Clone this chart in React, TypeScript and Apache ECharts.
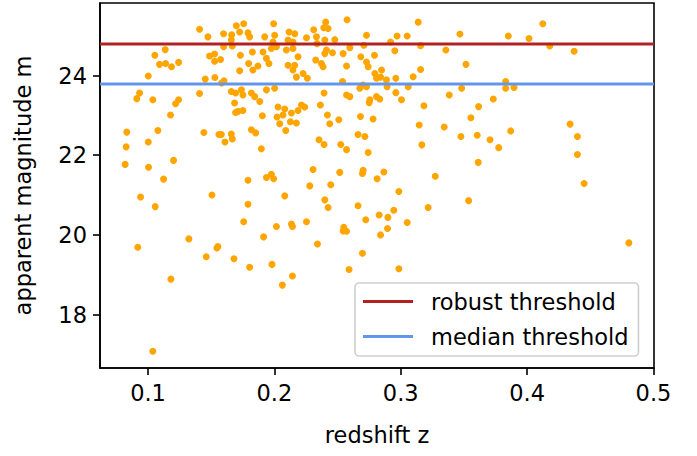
import React, { useEffect, useRef } from "react";
import * as echarts from "echarts";

const redshift = [
  0.1408, 0.1474, 0.1598, 0.1662, 0.1699, 0.1659, 0.1667, 0.1598, 0.1054, 0.1136,
  0.1091, 0.1139, 0.1186, 0.1242, 0.1002, 0.1487, 0.1527, 0.1527, 0.1574, 0.1453,
  0.1529, 0.1601, 0.1582, 0.0933, 0.0911, 0.1038, 0.1242, 0.1408, 0.1659, 0.1693,
  0.1725, 0.1757, 0.1725, 0.1791, 0.1804, 0.1994, 0.1923, 0.2002, 0.1989, 0.1976,
  0.2016, 0.2116, 0.2161, 0.2108, 0.2147, 0.2095, 0.2147, 0.2254, 0.2311, 0.2333,
  0.2338, 0.2406, 0.2391, 0.2425, 0.2399, 0.2478, 0.2412, 0.2460, 0.2399, 0.2575,
  0.2729, 0.2544, 0.2597, 0.1731, 0.1826, 0.1910, 0.1937, 0.1957, 0.1796, 0.1830,
  0.1870, 0.2108, 0.2161, 0.2147, 0.2187, 0.2327, 0.2372, 0.2385, 0.2227, 0.2261,
  0.2174, 0.2571, 0.2684, 0.2729, 0.2539, 0.2676, 0.2729, 0.2393, 0.2571, 0.2597,
  0.1739, 0.1751, 0.1818, 0.1844, 0.1937, 0.2002, 0.3138, 0.2708, 0.2919, 0.2971,
  0.3051, 0.2953, 0.3157, 0.3468, 0.3357, 0.3851, 0.3516, 0.2792, 0.2742, 0.2795,
  0.2848, 0.2808, 0.2887, 0.2892, 0.2961, 0.2961, 0.3098, 0.3157, 0.3059, 0.3384,
  0.3482, 0.3732, 0.3830, 0.3830, 0.2702, 0.2808, 0.3006, 0.2755, 0.2840, 0.4015,
  0.4124, 0.4179, 0.4372, 0.3896, 0.1218, 0.1685, 0.1693, 0.1178, 0.0832, 0.1078,
  0.0827, 0.1002, 0.1442, 0.1561, 0.1580, 0.1609, 0.1659, 0.1667, 0.0819, 0.1004,
  0.1202, 0.1123, 0.0941, 0.1057, 0.1506, 0.1884, 0.1712, 0.1751, 0.1905, 0.2029,
  0.2082, 0.2135, 0.2214, 0.2240, 0.2187, 0.2021, 0.2042, 0.2068, 0.2090, 0.2127,
  0.2174, 0.1818, 0.1852, 0.1897, 0.2364, 0.2420, 0.2438, 0.2510, 0.2681, 0.2750,
  0.2353, 0.2393, 0.2525, 0.2571, 0.2662, 0.2716, 0.2742, 0.2306, 0.2517, 0.2702,
  0.2697, 0.1791, 0.1937, 0.1976, 0.1994, 0.2280, 0.2446, 0.2082, 0.1791, 0.2399,
  0.2425, 0.2662, 0.1757, 0.2016, 0.2135, 0.2143, 0.2254, 0.2549, 0.2723, 0.2834,
  0.3183, 0.3616, 0.2781, 0.3146, 0.3344, 0.3555, 0.3870, 0.4340, 0.4398, 0.4398,
  0.4451, 0.3476, 0.3605, 0.3706, 0.3775, 0.3167, 0.3613, 0.2866, 0.2813, 0.3273,
  0.2985, 0.3537, 0.3217, 0.2829, 0.2898, 0.2945, 0.3051, 0.2895, 0.2840, 0.2697,
  0.2985, 0.4805, 0.0919, 0.1181, 0.1038, 0.1323, 0.1461, 0.1545, 0.1553, 0.1680,
  0.1804, 0.1915, 0.1981, 0.2063, 0.2143, 0.2341, 0.2544, 0.2571, 0.2591,
];

const magnitude = [
  25.16, 24.97, 25.05, 25.02, 25.25, 24.89, 24.74, 24.72, 24.51, 24.65,
  24.28, 24.30, 24.22, 24.33, 23.99, 24.49, 24.54, 24.36, 24.40, 23.91,
  23.95, 23.87, 23.81, 23.56, 23.42, 23.39, 23.39, 23.55, 23.60, 23.56,
  24.12, 25.30, 25.09, 25.07, 24.97, 25.30, 24.97, 25.01, 24.84, 24.68,
  24.72, 25.09, 25.05, 24.89, 24.84, 24.64, 24.68, 24.95, 25.15, 24.97,
  24.80, 25.34, 25.20, 25.18, 24.89, 24.90, 24.64, 24.57, 24.55, 25.40,
  25.01, 24.55, 24.70, 24.51, 24.59, 24.59, 24.43, 24.30, 24.30, 24.14,
  24.24, 24.26, 24.26, 24.14, 24.47, 24.39, 24.30, 24.22, 24.05, 23.93,
  23.96, 24.24, 24.47, 24.34, 23.85, 23.68, 23.72, 23.56, 23.51, 23.47,
  23.64, 23.51, 23.56, 23.47, 23.64, 23.68, 25.34, 24.76, 24.84, 24.99,
  24.99, 24.62, 24.75, 25.04, 24.64, 24.99, 24.28, 24.51, 24.22, 24.05,
  24.14, 23.93, 23.89, 23.72, 23.93, 23.57, 23.97, 24.15, 23.72, 23.51,
  23.68, 23.41, 23.85, 23.68, 23.76, 23.47, 23.39, 23.39, 23.96, 24.93,
  25.30, 24.74, 24.61, 23.70, 23.29, 23.31, 23.07, 23.01, 22.58, 22.62,
  22.21, 22.33, 22.57, 22.52, 22.52, 22.33, 22.53, 22.41, 21.77, 21.70,
  21.87, 21.40, 20.95, 20.71, 21.00, 23.35, 23.10, 23.12, 22.99, 23.21,
  23.16, 23.06, 23.26, 23.21, 23.12, 22.96, 22.79, 23.01, 22.62, 22.84,
  22.81, 22.64, 22.56, 22.16, 23.26, 23.01, 22.79, 22.89, 22.97, 23.32,
  22.39, 22.27, 22.27, 22.14, 22.52, 22.47, 22.07, 21.64, 21.57, 21.62,
  21.54, 21.37, 21.44, 21.52, 21.41, 21.23, 21.26, 20.98, 20.77, 20.88,
  20.69, 20.73, 20.33, 20.21, 20.27, 20.21, 20.33, 20.19, 20.38, 23.41,
  23.24, 23.22, 22.91, 22.76, 22.71, 22.94, 22.61, 22.78, 22.47, 22.02,
  21.29, 22.47, 22.50, 22.39, 22.19, 22.26, 21.82, 21.58, 21.41, 21.47,
  21.09, 20.86, 20.69, 20.50, 20.44, 20.62, 20.31, 20.16, 20.00, 19.54,
  19.15, 19.80, 19.69, 18.89, 17.08, 19.90, 19.45, 19.67, 19.71, 19.40,
  19.19, 19.95, 19.26, 18.74, 18.97, 19.77, 20.10, 20.09, 19.13,
];

const robustThreshold = 24.79;
const medianThreshold = 23.79;
const xTicks = [0.1, 0.2, 0.3, 0.4, 0.5];
const yTicks = [18, 20, 22, 24];
const xRange = [0.062, 0.5004];
const yRange = [16.66, 25.82];

export default function App() {
  const ref = useRef<HTMLDivElement>(null);
  useEffect(() => {
    const chart = echarts.init(ref.current!, null, { renderer: "svg" });
    const font = "DejaVu Sans";
    const fs = 22.5;
    const points = redshift.map((x, i) => [x, magnitude[i]]);
    chart.setOption({
      animation: false,
      backgroundColor: "#ffffff",
      textStyle: { fontFamily: font },
      grid: {
        left: 100,
        right: 43,
        top: 3,
        bottom: 88,
        show: true,
        borderColor: "#000",
        borderWidth: 1.6,
        backgroundColor: "transparent",
      },
      xAxis: {
        type: "value",
        min: xRange[0],
        max: xRange[1],
        name: "redshift z",
        nameLocation: "middle",
        nameGap: 55,
        nameTextStyle: { fontSize: fs, color: "#000", fontFamily: font },
        axisLine: { show: true, lineStyle: { color: "#000", width: 1.6 } },
        axisTick: {
          show: true,
          inside: false,
          length: 7,
          lineStyle: { color: "#000", width: 1.6 },
          customValues: xTicks,
        },
        axisLabel: {
          customValues: xTicks,
          fontSize: fs,
          color: "#000",
          fontFamily: font,
          margin: 13,
          formatter: (v: number) => v.toFixed(1),
        },
        splitLine: { show: false },
      },
      yAxis: {
        type: "value",
        min: yRange[0],
        max: yRange[1],
        name: "apparent magnitude m",
        nameLocation: "middle",
        nameGap: 66,
        nameTextStyle: { fontSize: fs, color: "#000", fontFamily: font },
        axisLine: { show: true, lineStyle: { color: "#000", width: 1.6 } },
        axisTick: {
          show: true,
          inside: false,
          length: 7,
          lineStyle: { color: "#000", width: 1.6 },
          customValues: yTicks,
        },
        axisLabel: {
          customValues: yTicks,
          fontSize: fs,
          color: "#000",
          fontFamily: font,
          margin: 13,
          formatter: (v: number) => String(Math.round(v)),
        },
        splitLine: { show: false },
      },
      legend: {
        data: [
          { name: "robust threshold", icon: "rect" },
          { name: "median threshold", icon: "rect" },
        ],
        orient: "vertical",
        left: 355,
        top: 283,
        itemWidth: 50,
        itemHeight: 3,
        itemGap: 12,
        padding: [7, 10, 8, 8],
        borderColor: "#cfcfcf",
        borderWidth: 1.6,
        borderRadius: 4,
        backgroundColor: "rgba(255,255,255,0.8)",
        textStyle: { fontSize: fs, color: "#000", fontFamily: font, padding: [0, 0, 0, 13] },
      },
      series: [
        {
          type: "scatter",
          data: points,
          symbolSize: 7,
          itemStyle: { color: "#ffa500", opacity: 1 },
          z: 2,
        },
        {
          name: "robust threshold",
          type: "line",
          data: [
            [xRange[0], robustThreshold],
            [xRange[1], robustThreshold],
          ],
          showSymbol: false,
          lineStyle: { color: "#b22222", width: 3 },
          itemStyle: { color: "#b22222" },
          z: 3,
          silent: true,
        },
        {
          name: "median threshold",
          type: "line",
          data: [
            [xRange[0], medianThreshold],
            [xRange[1], medianThreshold],
          ],
          showSymbol: false,
          lineStyle: { color: "#6495ed", width: 3 },
          itemStyle: { color: "#6495ed" },
          z: 3,
          silent: true,
        },
      ],
    });
    return () => chart.dispose();
  }, []);
  return (
    <div
      ref={ref}
      style={{ position: "fixed", left: 0, top: 0, width: 697, height: 456 }}
    />
  );
}
